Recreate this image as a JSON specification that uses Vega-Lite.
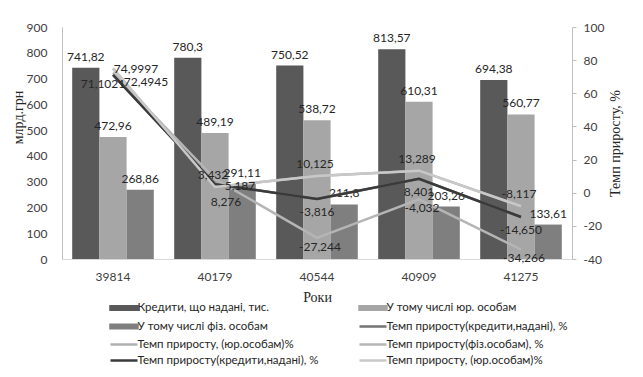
{
  "$schema": "https://vega.github.io/schema/vega-lite/v6.json",
  "width": 510,
  "height": 232,
  "autosize": {"type": "none"},
  "padding": {"left": 62, "top": 27, "right": 71, "bottom": 118},
  "background": "white",
  "config": {
    "view": {"stroke": null},
    "locale": {"number": {"decimal": ",", "thousands": " ", "grouping": [3], "currency": ["", ""], "minus": "-"}},
    "axis": {"labelFont": "Lato", "labelFontSize": 12, "labelColor": "#404040", "titleFont": "Liberation Serif", "titleFontSize": 14, "titleFontWeight": "normal", "titleColor": "#262626", "domainColor": "#bfbfbf", "tickColor": "#bfbfbf", "grid": false},
    "text": {"font": "Lato", "fontSize": 12, "color": "#262626"}
  },
  "datasets": {
    "bars": [
      {"year": 39814, "series": "Кредити, що надані, тис.", "value": 741.82},
      {"year": 39814, "series": "У тому числі юр. особам", "value": 472.96},
      {"year": 39814, "series": "У тому числі фіз. особам", "value": 268.86},
      {"year": 40179, "series": "Кредити, що надані, тис.", "value": 780.3},
      {"year": 40179, "series": "У тому числі юр. особам", "value": 489.19},
      {"year": 40179, "series": "У тому числі фіз. особам", "value": 291.11},
      {"year": 40544, "series": "Кредити, що надані, тис.", "value": 750.52},
      {"year": 40544, "series": "У тому числі юр. особам", "value": 538.72},
      {"year": 40544, "series": "У тому числі фіз. особам", "value": 211.8},
      {"year": 40909, "series": "Кредити, що надані, тис.", "value": 813.57},
      {"year": 40909, "series": "У тому числі юр. особам", "value": 610.31},
      {"year": 40909, "series": "У тому числі фіз. особам", "value": 203.26},
      {"year": 41275, "series": "Кредити, що надані, тис.", "value": 694.38},
      {"year": 41275, "series": "У тому числі юр. особам", "value": 560.77},
      {"year": 41275, "series": "У тому числі фіз. особам", "value": 133.61}
    ],
    "lines": [
      {"year": 39814, "series": "Темп приросту(кредити,надані), %", "value": 71.1021},
      {"year": 40179, "series": "Темп приросту(кредити,надані), %", "value": 5.187},
      {"year": 40544, "series": "Темп приросту(кредити,надані), %", "value": -3.816},
      {"year": 40909, "series": "Темп приросту(кредити,надані), %", "value": 8.401},
      {"year": 41275, "series": "Темп приросту(кредити,надані), %", "value": -14.65},
      {"year": 39814, "series": "Темп приросту, (юр.особам)%", "value": 74.9997},
      {"year": 40179, "series": "Темп приросту, (юр.особам)%", "value": 3.432},
      {"year": 40544, "series": "Темп приросту, (юр.особам)%", "value": 10.125},
      {"year": 40909, "series": "Темп приросту, (юр.особам)%", "value": 13.289},
      {"year": 41275, "series": "Темп приросту, (юр.особам)%", "value": -8.117},
      {"year": 39814, "series": "Темп приросту(фіз.особам), %", "value": 72.4945},
      {"year": 40179, "series": "Темп приросту(фіз.особам), %", "value": 8.276},
      {"year": 40544, "series": "Темп приросту(фіз.особам), %", "value": -27.244},
      {"year": 40909, "series": "Темп приросту(фіз.особам), %", "value": -4.032},
      {"year": 41275, "series": "Темп приросту(фіз.особам), %", "value": -34.266},
      {"year": 39814, "series": "Темп приросту(кредити,надані), % ", "value": 71.1021},
      {"year": 40179, "series": "Темп приросту(кредити,надані), % ", "value": 5.187},
      {"year": 40544, "series": "Темп приросту(кредити,надані), % ", "value": -3.816},
      {"year": 40909, "series": "Темп приросту(кредити,надані), % ", "value": 8.401},
      {"year": 41275, "series": "Темп приросту(кредити,надані), % ", "value": -14.65},
      {"year": 39814, "series": "Темп приросту, (юр.особам)% ", "value": 74.9997},
      {"year": 40179, "series": "Темп приросту, (юр.особам)% ", "value": 3.432},
      {"year": 40544, "series": "Темп приросту, (юр.особам)% ", "value": 10.125},
      {"year": 40909, "series": "Темп приросту, (юр.особам)% ", "value": 13.289},
      {"year": 41275, "series": "Темп приросту, (юр.особам)% ", "value": -8.117}
    ]
  },
  "layer": [
    {
      "data": {"name": "bars"},
      "encoding": {
        "x": {"field": "year", "type": "nominal", "scale": {"paddingInner": 0.2, "paddingOuter": 0.1},
              "axis": {"title": "Роки", "labelAngle": 0, "ticks": false, "labelPadding": 12, "titleY": 38, "titleBaseline": "middle", "domainColor": "#d9d9d9"}},
        "xOffset": {"field": "series", "type": "nominal", "sort": ["Кредити, що надані, тис.", "У тому числі юр. особам", "У тому числі фіз. особам"], "scale": {"paddingInner": 0, "paddingOuter": 0}},
        "y": {"field": "value", "type": "quantitative", "scale": {"domain": [0, 900], "nice": false},
              "axis": {"orient": "left", "title": "млрд.грн", "values": [0, 100, 200, 300, 400, 500, 600, 700, 800, 900], "ticks": false, "labelPadding": 15, "titleX": -44, "titleY": 90, "titleBaseline": "middle"}}
      },
      "layer": [
        {
          "mark": {"type": "bar"},
          "encoding": {
            "color": {"field": "series", "type": "nominal",
              "scale": {
                "domain": ["Кредити, що надані, тис.", "У тому числі юр. особам", "У тому числі фіз. особам", "Темп приросту(кредити,надані), %", "Темп приросту, (юр.особам)%", "Темп приросту(фіз.особам), %", "Темп приросту(кредити,надані), % ", "Темп приросту, (юр.особам)% "],
                "range": ["#595959", "#a6a6a6", "#7f7f7f", "#737373", "#b0b0b0", "#b5b5b5", "#3a3a3a", "#c8c8c8"]
              },
              "legend": {
                "orient": "none", "legendX": 47, "legendY": 274, "columns": 2, "direction": "horizontal", "title": null,
                "labelFont": "Lato", "labelFontSize": 11.5, "labelColor": "#262626", "labelLimit": 400,
                "symbolSize": 100, "symbolOffset": 8.5, "labelOffset": 7, "rowPadding": 4, "columnPadding": 35,
                "encode": {"symbols": {"update": {
                  "shape": {"signal": "indexof(datum.value, 'Темп') === 0 ? 'M-2.7,0H2.7' : 'M-2.7,-0.35H2.7V0.35H-2.7Z'"},
                  "fill": {"signal": "indexof(datum.value, 'Темп') === 0 ? 'transparent' : scale('color', datum.value)"},
                  "stroke": {"signal": "indexof(datum.value, 'Темп') === 0 ? scale('color', datum.value) : 'transparent'"},
                  "strokeWidth": {"value": 2.5},
                  "opacity": {"value": 1}
                }}}
              }
            }
          }
        },
        {
          "mark": {"type": "text", "baseline": "middle", "dy": -11, "color": "#262626"},
          "encoding": {"text": {"field": "value", "type": "quantitative", "format": "~r"}}
        }
      ]
    },
    {
      "data": {"name": "lines"},
      "encoding": {
        "x": {"field": "year", "type": "nominal",
              "axis": {"title": "Роки", "labelAngle": 0, "ticks": false, "labelPadding": 12, "titleY": 38, "titleBaseline": "middle", "domainColor": "#d9d9d9"}},
        "y": {"field": "value", "type": "quantitative", "scale": {"domain": [-40, 100], "nice": false},
              "axis": {"orient": "right", "title": "Темп приросту, %", "values": [-40, -20, 0, 20, 40, 60, 80, 100], "ticks": true, "tickSize": 4, "labelPadding": 7, "titleAngle": 270, "titleX": 43, "titleY": 116, "titleBaseline": "middle"}}
      },
      "layer": [
        {
          "transform": [{"filter": {"field": "series", "oneOf": ["Темп приросту(кредити,надані), %", "Темп приросту, (юр.особам)%", "Темп приросту(фіз.особам), %"]}}],
          "mark": {"type": "line", "strokeWidth": 2.5},
          "encoding": {"color": {"field": "series", "type": "nominal"}}
        },
        {
          "transform": [{"filter": {"field": "series", "oneOf": ["Темп приросту(кредити,надані), % ", "Темп приросту, (юр.особам)% "]}}],
          "mark": {"type": "line", "strokeWidth": 2.5},
          "encoding": {"color": {"field": "series", "type": "nominal"}}
        },
        {
          "transform": [{"filter": "datum.series === 'Темп приросту, (юр.особам)% ' && datum.year > 39814"}],
          "mark": {"type": "text", "baseline": "middle", "dx": -2, "dy": -12},
          "encoding": {"text": {"field": "value", "type": "quantitative", "format": ".3f"}}
        },
        {
          "transform": [{"filter": "datum.series === 'Темп приросту, (юр.особам)% ' && datum.year === 39814"}],
          "mark": {"type": "text", "baseline": "middle", "dx": 23, "dy": 1},
          "encoding": {"text": {"field": "value", "type": "quantitative", "format": ".4f"}}
        },
        {
          "transform": [{"filter": "datum.series === 'Темп приросту(кредити,надані), % ' && datum.year === 39814"}],
          "mark": {"type": "text", "baseline": "middle", "dx": -10, "dy": 9},
          "encoding": {"text": {"field": "value", "type": "quantitative", "format": ".4f"}}
        },
        {
          "transform": [{"filter": "datum.series === 'Темп приросту(кредити,надані), % ' && datum.year === 40179"}],
          "mark": {"type": "text", "baseline": "middle", "dx": 25, "dy": 2},
          "encoding": {"text": {"field": "value", "type": "quantitative", "format": ".3f"}}
        },
        {
          "transform": [{"filter": "datum.series === 'Темп приросту(кредити,надані), % ' && datum.year > 40179"}],
          "mark": {"type": "text", "baseline": "middle", "dx": 0, "dy": 13},
          "encoding": {"text": {"field": "value", "type": "quantitative", "format": ".3f"}}
        },
        {
          "transform": [{"filter": "datum.series === 'Темп приросту(фіз.особам), %' && datum.year === 39814"}],
          "mark": {"type": "text", "baseline": "middle", "dx": 33, "dy": 9},
          "encoding": {"text": {"field": "value", "type": "quantitative", "format": ".4f"}}
        },
        {
          "transform": [{"filter": "datum.series === 'Темп приросту(фіз.особам), %' && datum.year === 40179"}],
          "mark": {"type": "text", "baseline": "middle", "dx": 11, "dy": 23},
          "encoding": {"text": {"field": "value", "type": "quantitative", "format": ".3f"}}
        },
        {
          "transform": [{"filter": "datum.series === 'Темп приросту(фіз.особам), %' && datum.year > 40179"}],
          "mark": {"type": "text", "baseline": "middle", "dx": 3, "dy": 9},
          "encoding": {"text": {"field": "value", "type": "quantitative", "format": ".3f"}}
        }
      ]
    }
  ],
  "resolve": {"scale": {"y": "independent"}, "axis": {"y": "independent"}}
}
